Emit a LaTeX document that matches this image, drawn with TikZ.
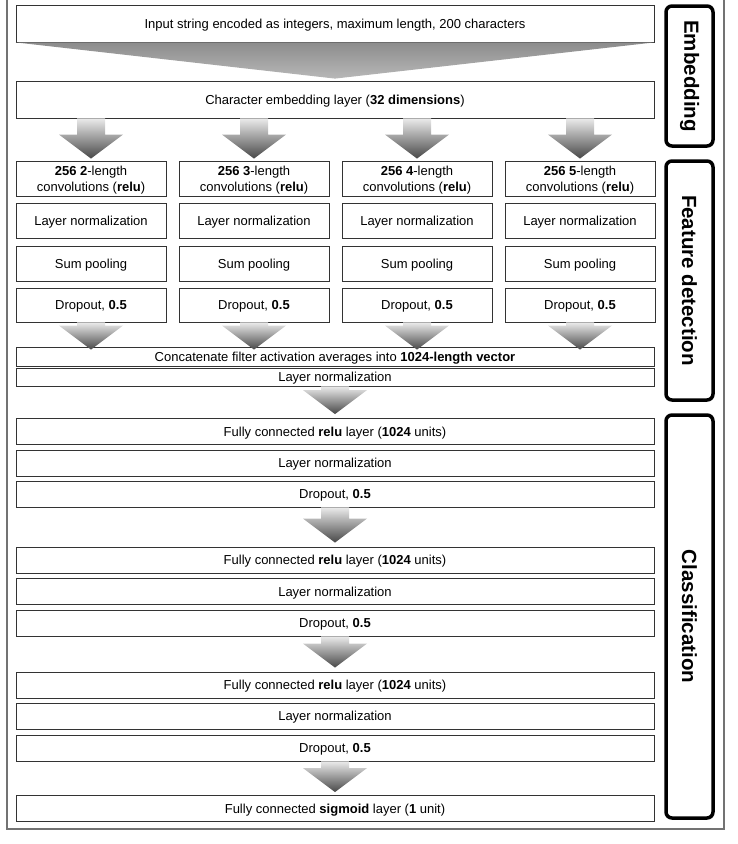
\documentclass[tikz,border=0pt]{standalone}
\usepackage{fontspec}
\setmainfont{Liberation Sans}
\usetikzlibrary{positioning, calc}

% fat shaded arrow, from a top point to a tip point
\newcommand{\flowarrow}[2]{%
  \path #1 coordinate (fa-top) #2 coordinate (fa-tip);
  \shade[arrowshade] ($(fa-top)+(-14,0)$) -- ($(fa-top)+(14,0)$)
    -- ($(fa-tip)+(14,-24)$) -- ($(fa-tip)+(32,-24)$) -- (fa-tip)
    -- ($(fa-tip)+(-32,-24)$) -- ($(fa-tip)+(-14,-24)$) -- cycle;
}

\begin{document}
\begin{tikzpicture}[x=1pt, y=-1pt,
    layer/.style={draw=black!80, line width=0.8pt, fill=white, inner sep=0pt,
      align=center, text depth=0pt, font=\fontsize{13}{16}\selectfont},
    wide/.style={layer, minimum width=638pt},
    col/.style={layer, minimum width=150pt, minimum height=35pt},
    stage/.style={draw=black, line width=3.5pt, rounded corners=6pt, rotate=-90,
      minimum height=47pt, inner sep=0pt, font=\fontsize{20.5}{24}\selectfont\bfseries},
    arrowshade/.style={top color=black!8, bottom color=black!72},
    funnelshade/.style={top color=black!45, bottom color=black!28},
    frame/.style={draw=black!55, line width=1.2pt}]
  \useasboundingbox (0,0) rectangle (738,844);

  % Outer frame
  \draw[frame] (7,-5) -- (7,829) -- (724,829) -- (724,-5);

  % Embedding
  \node[wide, minimum height=37pt] (input) at (335,23.5)
    {Input string encoded as integers, maximum length, 200 characters};
  \node[wide, minimum height=37pt] (emb) at (335,99.5)
    {Character embedding layer (\textbf{32 dimensions})};
  \shade[funnelshade] (input.south west) -- (input.south east) -- ($(emb.north)+(0,-2)$) -- cycle;

  % Feature detection columns
  \foreach \n/\x in {2/91, 3/254, 4/417, 5/580} {
    \node[col] (conv\n) at (\x,178.5) {\textbf{256 \n}-length\\convolutions (\textbf{relu})};
    \node[col] (ln\n) at (\x,220.5) {Layer normalization};
    \node[col] (pool\n) at (\x,263.5) {Sum pooling};
    \node[col, minimum height=34pt] (drop\n) at (\x,305) {Dropout, \textbf{0.5}};
    \flowarrow{(emb.south -| conv\n.north)}{($(conv\n.north)+(0,-2)$)}
  }
  \node[wide, minimum height=19pt] (concat) at (335,356.5)
    {Concatenate filter activation averages into \textbf{1024-length vector}};
  \node[wide, minimum height=18pt] (cln) at (335,377) {Layer normalization};
  \foreach \n in {2,3,4,5} {
    \flowarrow{(drop\n.south)}{($(drop\n.south |- concat.north)+(0,3)$)}
  }

  % Classification
  \node[wide, minimum height=26pt] (fc1) at (335,431.5)
    {Fully connected \textbf{relu} layer (\textbf{1024} units)};
  \node[wide, minimum height=26pt] (fln1) at (335,463) {Layer normalization};
  \node[wide, minimum height=26pt] (fdrop1) at (335,494) {Dropout, \textbf{0.5}};
  \node[wide, minimum height=26pt] (fc2) at (335,560)
    {Fully connected \textbf{relu} layer (\textbf{1024} units)};
  \node[wide, minimum height=26pt] (fln2) at (335,591.5) {Layer normalization};
  \node[wide, minimum height=26pt] (fdrop2) at (335,623) {Dropout, \textbf{0.5}};
  \node[wide, minimum height=26pt] (fc3) at (335,685)
    {Fully connected \textbf{relu} layer (\textbf{1024} units)};
  \node[wide, minimum height=26pt] (fln3) at (335,716) {Layer normalization};
  \node[wide, minimum height=26pt] (fdrop3) at (335,748) {Dropout, \textbf{0.5}};
  \node[wide, minimum height=26pt] (out) at (335,808.5)
    {Fully connected \textbf{sigmoid} layer (\textbf{1} unit)};

  \flowarrow{(cln.south)}{($(fc1.north)+(0,-4)$)}
  \flowarrow{(fdrop1.south)}{($(fc2.north)+(0,-4)$)}
  \flowarrow{(fdrop2.south)}{($(fc3.north)+(0,-4)$)}
  \flowarrow{(fdrop3.south)}{($(out.north)+(0,-3)$)}

  % Stage labels
  \node[stage, minimum width=140pt] (sEmb) at (689.5,76) {Embedding};
  \node[stage, minimum width=239pt] (sFeat) at (689.5,280.5) {Feature detection};
  \node[stage, minimum width=403pt] (sClass) at (689.5,616.5) {Classification};
\end{tikzpicture}
\end{document}
